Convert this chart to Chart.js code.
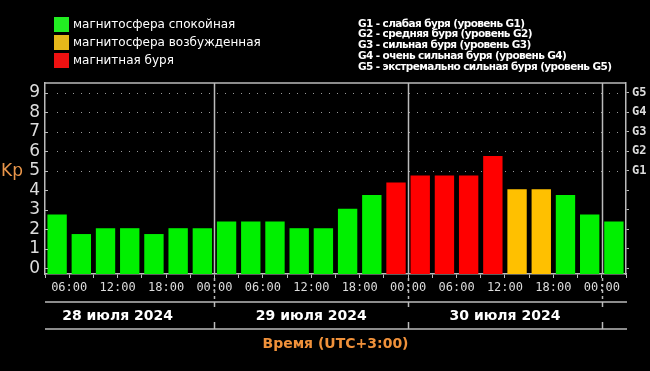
<!DOCTYPE html>
<html>
<head>
<meta charset="utf-8">
<script src="https://cdn.jsdelivr.net/npm/chart.js@4.4.1/dist/chart.umd.min.js"></script>
<style>
body{margin:0;background:#000;}
#wrap{position:relative;width:650px;height:371px;background:#000;overflow:hidden;font-family:"DejaVu Sans",sans-serif;}
canvas{position:absolute;left:0;top:0;}
.lg{position:absolute;left:54px;font-size:12px;line-height:15px;color:#fff;white-space:nowrap;}
.lg span{display:inline-block;width:15px;height:15px;vertical-align:top;margin-right:4px;}
#glist{position:absolute;left:358px;top:17.5px;font-size:10.5px;letter-spacing:-0.6px;font-weight:bold;line-height:10.75px;color:#fff;white-space:nowrap;}
</style>
</head>
<body>
<div id="wrap">
  <canvas id="chart" width="650" height="371"></canvas>
  <div id="legend"></div>
  <div id="glist"></div>
</div>
<script>
// Kp index, 3-hour slots, hours counted from 28 July 00:00 (UTC+3)
const barHours = [4.5, 7.5, 10.5, 13.5, 16.5, 19.5, 22.5,
  25.5, 28.5, 31.5, 34.5, 37.5, 40.5, 43.5, 46.5,
  49.5, 52.5, 55.5, 58.5, 61.5, 64.5, 67.5, 70.5,
  73.5];
const kp = [2.75, 1.75, 2.05, 2.05, 1.75, 2.05, 2.05,
  2.4, 2.4, 2.4, 2.05, 2.05, 3.05, 3.75, 4.4,
  4.75, 4.75, 4.75, 5.75, 4.05, 4.05, 3.75, 2.75,
  2.4];
// q = спокойная, a = возбужденная, s = буря
const status = ['q','q','q','q','q','q','q',
  'q','q','q','q','q','q','q','s',
  's','s','s','s','a','a','q','q',
  'q'];
const tickHours = [3,6,9,12,15,18,21,24,27,30,33,36,39,42,45,48,51,54,57,60,63,66,69,72,75];
const yTicks = [0,1,2,3,4,5,6,7,8,9];
const gLevels = [5,6,7,8,9];
const gNames = ['G1','G2','G3','G4','G5'];
const dayBounds = [24, 48, 72];
const dayCenters = [12, 36, 60];
const dayLabels = ['28 июля 2024', '29 июля 2024', '30 июля 2024'];
const legendNames = ['магнитосфера спокойная', 'магнитосфера возбужденная', 'магнитная буря'];
const gDescr = ['G1 - слабая буря (уровень G1)', 'G2 - средняя буря (уровень G2)',
  'G3 - сильная буря (уровень G3)', 'G4 - очень сильная буря (уровень G4)',
  'G5 - экстремально сильная буря (уровень G5)'];

const Y_MIN = -0.3, Y_MAX = 9.5;
const barColor = {q:'#00f000', a:'#ffc000', s:'#ff0000'};
const legendColor = ['#22ee22', '#e6b81a', '#ee1111'];
const lineCol = '#bbbbbb';

// legends
const legend = document.getElementById('legend');
legendNames.forEach((n,i)=>{
  const d = document.createElement('div');
  d.className = 'lg';
  d.style.top = (17.4 + i*18) + 'px';
  d.innerHTML = `<span style="background:${legendColor[i]}"></span>${n}`;
  legend.appendChild(d);
});
document.getElementById('glist').innerHTML = gDescr.map(t=>`<div>${t}</div>`).join('');

const frame = {
  id: 'frame',
  beforeDraw(c){
    const ctx = c.ctx;
    ctx.save(); ctx.fillStyle = '#000'; ctx.fillRect(0,0,c.width,c.height); ctx.restore();
  },
  beforeDatasetsDraw(c){
    const {ctx, chartArea:a, scales:{y}} = c;
    ctx.save();
    ctx.strokeStyle = '#9a9a9a'; ctx.lineWidth = 1; ctx.setLineDash([1,7]);
    gLevels.forEach(v=>{
      const py = Math.round(y.getPixelForValue(v)) + 0.5;
      ctx.beginPath(); ctx.moveTo(a.left+12, py); ctx.lineTo(a.right-4, py); ctx.stroke();
    });
    ctx.restore();
  },
  afterDraw(c){
    const {ctx, chartArea:a, scales:{x,y}} = c;
    const line1 = a.bottom + 28, line2 = a.bottom + 55;
    ctx.save();
    ctx.strokeStyle = lineCol; ctx.lineWidth = 1.5;
    // top border
    ctx.beginPath(); ctx.moveTo(a.left, a.top); ctx.lineTo(a.right, a.top); ctx.stroke();
    // inward ticks on the left axis
    ctx.lineWidth = 1;
    yTicks.forEach(v=>{
      const py = Math.round(y.getPixelForValue(v)) + 0.5;
      ctx.beginPath(); ctx.moveTo(a.left, py); ctx.lineTo(a.left+3, py); ctx.stroke();
    });
    // day separators
    ctx.lineWidth = 1.5;
    dayBounds.forEach(h=>{
      const px = Math.round(x.getPixelForValue(h)) + 0.5;
      ctx.setLineDash([]);
      ctx.beginPath(); ctx.moveTo(px, a.top); ctx.lineTo(px, a.bottom); ctx.stroke();
      ctx.setLineDash([3,3]);
      ctx.beginPath(); ctx.moveTo(px, a.bottom+4); ctx.lineTo(px, line1); ctx.stroke();
      ctx.setLineDash([]);
      ctx.beginPath(); ctx.moveTo(px, line1); ctx.lineTo(px, line1+5); ctx.stroke();
      ctx.beginPath(); ctx.moveTo(px, line2-7); ctx.lineTo(px, line2); ctx.stroke();
    });
    // date rows
    ctx.setLineDash([]);
    [line1, line2].forEach(py=>{
      ctx.beginPath(); ctx.moveTo(a.left, py); ctx.lineTo(a.right+1, py); ctx.stroke();
    });
    ctx.fillStyle = '#ffffff';
    ctx.font = 'bold 14px "DejaVu Sans"';
    ctx.textAlign = 'center'; ctx.textBaseline = 'alphabetic';
    dayLabels.forEach((t,i)=>{
      ctx.fillText(t, x.getPixelForValue(dayCenters[i]), a.bottom + 46);
    });
    // Kp
    ctx.fillStyle = '#e8954a';
    ctx.font = '17px "DejaVu Sans"';
    ctx.textBaseline = 'middle';
    ctx.fillText('Kp', 12, y.getPixelForValue(5) + 1);
    ctx.restore();
  }
};

new Chart(document.getElementById('chart'), {
  type: 'bar',
  data: {
    datasets: [{
      data: barHours.map((h,i)=>({x:h, y:kp[i]})),
      backgroundColor: status.map(s=>barColor[s]),
      base: Y_MIN,
      barPercentage: 1,
      categoryPercentage: 0.8,
      borderWidth: 0,
      yAxisID: 'y'
    }]
  },
  options: {
    responsive: false,
    animation: false,
    layout: {padding: {top: 83, left: 0, right: 0, bottom: 0}},
    plugins: {legend: {display: false}, tooltip: {enabled: false}},
    scales: {
      x: {
        type: 'linear', min: 3, max: 75, offset: false,
        afterBuildTicks: s=>{ s.ticks = tickHours.map(v=>({value:v})); },
        afterFit: s=>{ s.height = 97; },
        ticks: {
          autoSkip: false, maxRotation: 0, color: '#dddddd', padding: 3,
          font: {family: 'DejaVu Sans Mono', size: 12},
          callback: v => v % 6 === 0 ? String(v % 24).padStart(2,'0') + ':00' : ''
        },
        grid: {drawOnChartArea: false, offset: false, color: lineCol, tickLength: 4},
        border: {color: lineCol, width: 1.5},
        title: {
          display: true, text: 'Время (UTC+3:00)', color: '#f0913a',
          font: {family: 'DejaVu Sans', size: 14, weight: 'bold'},
          padding: {top: 0, bottom: 18}
        }
      },
      y: {
        position: 'left', min: Y_MIN, max: Y_MAX,
        afterBuildTicks: s=>{ s.ticks = yTicks.map(v=>({value:v})); },
        afterFit: s=>{ s.width = 45; },
        ticks: {autoSkip: false, color: '#dddddd', padding: 5, font: {family: 'DejaVu Sans', size: 17}},
        grid: {drawOnChartArea: false, drawTicks: false},
        border: {color: lineCol, width: 1.5}
      },
      g: {
        position: 'right', min: Y_MIN, max: Y_MAX,
        afterBuildTicks: s=>{ s.ticks = yTicks.map(v=>({value:v})); },
        afterFit: s=>{ s.width = 24; },
        ticks: {
          autoSkip: false, color: '#dddddd', padding: 3,
          font: {family: 'DejaVu Sans Mono', size: 12, weight: 'bold'},
          callback: v => { const k = gLevels.indexOf(v); return k >= 0 ? gNames[k] : ''; }
        },
        grid: {drawOnChartArea: false, color: lineCol, tickLength: 3},
        border: {color: lineCol, width: 1.5}
      }
    }
  },
  plugins: [frame]
});
</script>
</body>
</html>
